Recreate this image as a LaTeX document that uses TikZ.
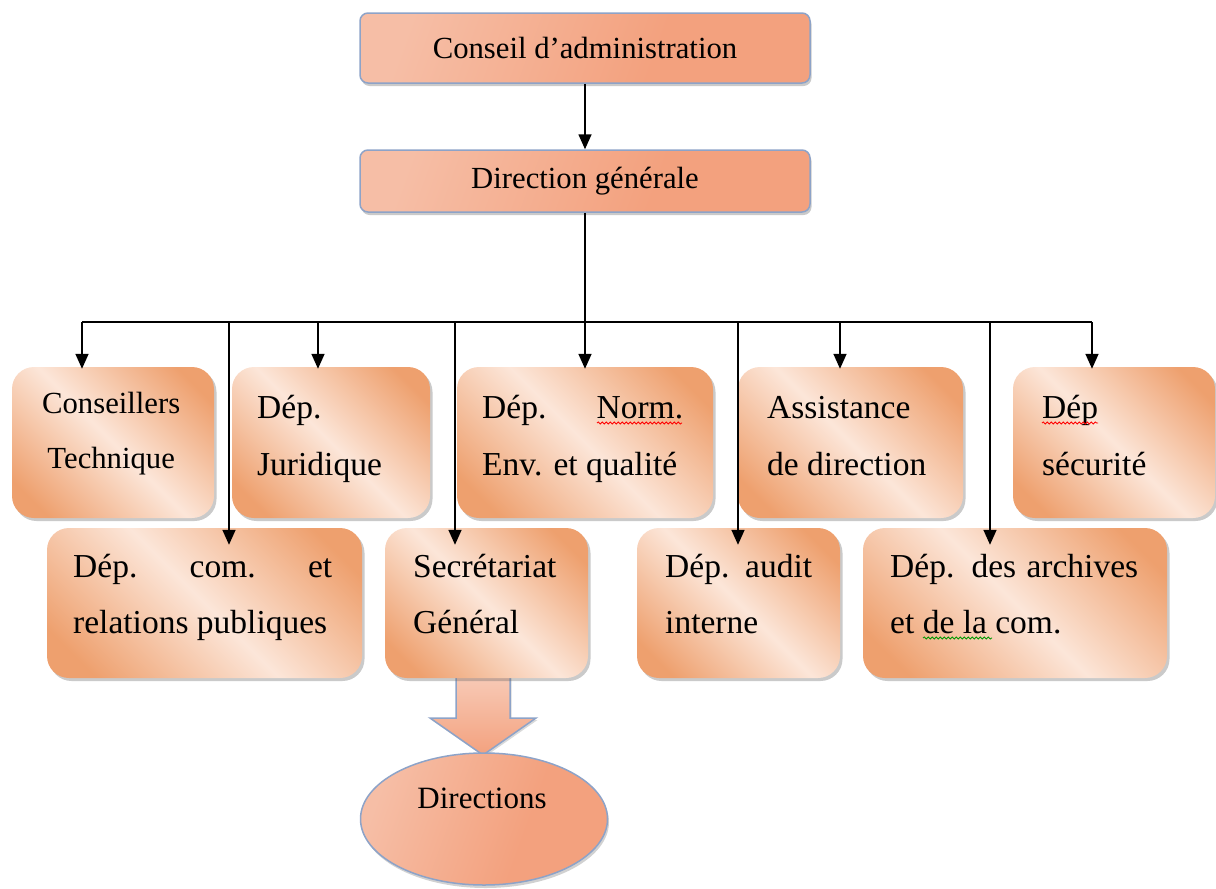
\documentclass[tikz,border=0pt]{standalone}
\usepackage{fontspec}
\setmainfont{Liberation Serif}
\usetikzlibrary{arrows.meta,shadows,decorations.pathmorphing,calc,shapes.geometric}
\definecolor{odark}{RGB}{238,160,110}
\definecolor{olight}{RGB}{252,230,217}
\definecolor{sLight}{RGB}{246,190,166}
\definecolor{sDark}{RGB}{243,161,126}
\definecolor{bblue}{RGB}{141,163,200}
\pgfdeclarehorizontalshading{rowshade}{100bp}{color(0bp)=(odark); color(22bp)=(odark); color(50bp)=(olight); color(78bp)=(odark); color(100bp)=(odark)}
\pgfdeclarehorizontalshading{topshade}{100bp}{color(0bp)=(sLight); color(25bp)=(sLight); color(60bp)=(sDark); color(100bp)=(sDark)}
\newcommand{\rowtxt}[3]{\parbox[t]{#1}{\raggedright\fontsize{33.5}{#2}\selectfont #3}}
\begin{document}
\begin{tikzpicture}[x=1pt,y=-1pt,
  topbox/.style={draw=bblue, line width=1.5pt, rounded corners=8pt, shading=topshade, shading angle=-20,
     drop shadow={shadow xshift=1.5pt, shadow yshift=-3pt, fill=black!60, opacity=0.35},
     inner sep=0pt, font=\fontsize{30.7}{36}\selectfont},
  rowbox/.style={draw=none, rounded corners=22pt, shading=rowshade, shading angle=45,
     drop shadow={shadow xshift=2.5pt, shadow yshift=-3pt, fill=black!60, opacity=0.35}, inner sep=0pt},
  txt/.style={anchor=base west, inner sep=0pt},
  arr/.style={line width=1.6pt, -{Triangle[length=15pt,width=13pt]}},
  bus/.style={line width=1.6pt},
  spell/.style={line width=0.8pt, decorate, decoration={snake, amplitude=1.1pt, segment length=4pt}}
]
\useasboundingbox (0,0) rectangle (1216,889);

% top boxes
\node[topbox, minimum width=450pt, minimum height=70pt] (top) at (585,48) {Conseil d’administration};
\node[topbox, minimum width=450pt, minimum height=62pt] (dg) at (585,181) {Direction générale};

% block arrow and Directions ellipse
\coordinate (ba) at (483,678);
\path[draw=bblue, line width=1.5pt, top color=sLight!80!white, bottom color=sDark, drop shadow={shadow xshift=1.5pt, shadow yshift=-2pt, fill=black!60, opacity=0.25}]
  ($(ba)+(-27,-4)$) -- ($(ba)+(-27,40)$) -- ($(ba)+(-53,40)$) -- ($(ba)+(0,77)$) -- ($(ba)+(53,40)$) -- ($(ba)+(27,40)$) -- ($(ba)+(27,-4)$) -- cycle;
\node[ellipse, draw=bblue, line width=1.5pt, shading=topshade, shading angle=-20, minimum width=247pt, minimum height=132pt, inner sep=0pt,
  drop shadow={shadow xshift=1.5pt, shadow yshift=-3pt, fill=black!60, opacity=0.3}] (dir) at (484,819) {};
\node[anchor=base, inner sep=0pt, font=\fontsize{31}{36}\selectfont] (tdir) at (482,808) {Directions};

% row 1 boxes
\node[rowbox, minimum width=202pt, minimum height=151pt] (ct) at (113,442.5) {};
\node[rowbox, minimum width=198pt, minimum height=151pt] (jur) at (331,442.5) {};
\node[rowbox, minimum width=256pt, minimum height=151pt] (norm) at (585,442.5) {};
\node[rowbox, minimum width=225pt, minimum height=151pt] (ass) at (850.5,442.5) {};
\node[rowbox, minimum width=202pt, minimum height=151pt] (secu) at (1114,442.5) {};
% row 2 boxes
\node[rowbox, minimum width=315pt, minimum height=150pt] (com) at (204.5,603) {};
\node[rowbox, minimum width=203pt, minimum height=150pt] (sg) at (486.5,603) {};
\node[rowbox, minimum width=203pt, minimum height=150pt] (aud) at (738.5,603) {};
\node[rowbox, minimum width=304pt, minimum height=150pt] (arc) at (1015,603) {};

% texts
\node[txt] (tct) at (31,413) {\parbox[t]{160pt}{\centering\fontsize{30.7}{55}\selectfont Conseillers\\Technique}};
\node[txt] (tjur) at (257,418) {\rowtxt{200pt}{57}{Dép.\\Juridique}};
\node[txt] (tnorm) at (482,418) {\rowtxt{240pt}{57}{\makebox[201pt][s]{Dép. Norm.}\\Env. et qualité}};
\node[txt] (tass) at (767,418) {\rowtxt{200pt}{57}{Assistance\\de direction}};
\node[txt] (tsecu) at (1042,418) {\rowtxt{160pt}{57}{Dép\\sécurité}};
\node[txt] (tcom) at (73,577) {\rowtxt{280pt}{56}{\makebox[259pt][s]{Dép. com. et}\\relations publiques}};
\node[txt] (tsg) at (413,577) {\rowtxt{170pt}{56}{Secrétariat\\Général}};
\node[txt] (taud) at (665,577) {\rowtxt{170pt}{56}{\makebox[147pt][s]{Dép. audit}\\interne}};
\node[txt] (tarc) at (890,577) {\rowtxt{270pt}{56}{\makebox[248pt][s]{Dép. des archives}\\et de la com.}};

% spell-check marks
\draw[spell, red] (597,423) -- (682,423);
\draw[spell, red] (1042,423) -- (1098,423);
\draw[spell, green!60!black] (923,638) -- (992,638);

% connectors
\draw[arr] (top.south) -- (dg.north);
\coordinate (bus) at (585,322);
\draw[bus] (dg.south) -- (bus);
\coordinate (d1) at (82,322);
\coordinate (d2) at (229,322);
\coordinate (d3) at (318,322);
\coordinate (d4) at (455,322);
\coordinate (d6) at (738,322);
\coordinate (d7) at (840,322);
\coordinate (d8) at (990,322);
\coordinate (d9) at (1092,322);
\draw[bus] (d1) -- (d9);
\draw[arr] (d1) -- ($(d1 |- ct.north)+(0,2)$);
\draw[arr] (d3) -- ($(d3 |- jur.north)+(0,2)$);
\draw[arr] (bus) -- ($(norm.north)+(0,2)$);
\draw[arr] (d7) -- ($(d7 |- ass.north)+(0,2)$);
\draw[arr] (d9) -- ($(d9 |- secu.north)+(0,2)$);
\draw[arr] (d2) -- ($(d2 |- com.north)+(0,17)$);
\draw[arr] (d4) -- ($(d4 |- sg.north)+(0,17)$);
\draw[arr] (d6) -- ($(d6 |- aud.north)+(0,17)$);
\draw[arr] (d8) -- ($(d8 |- arc.north)+(0,17)$);
\end{tikzpicture}
\end{document}
